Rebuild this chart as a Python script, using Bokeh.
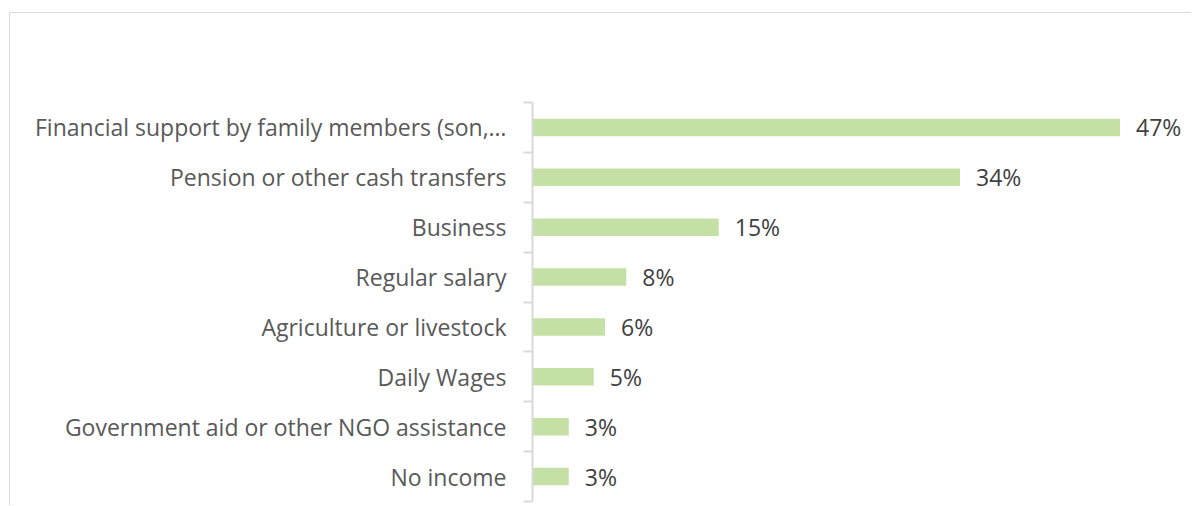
from bokeh.plotting import figure
from bokeh.models import Range1d, FixedTicker, LinearAxis
from bokeh.embed import file_html
from bokeh.resources import INLINE
from bokeh.core.properties import value

categories = [
    "Financial support by family members (son,…",
    "Pension or other cash transfers",
    "Business",
    "Regular salary",
    "Agriculture or livestock",
    "Daily Wages",
    "Government aid or other NGO assistance",
    "No income",
]
values = [47.0, 34.2, 14.9, 7.5, 5.8, 4.9, 2.9, 2.9]
value_labels = ["47%", "34%", "15%", "8%", "6%", "5%", "3%", "3%"]

n = len(categories)
ys = [n - 0.5 - i for i in range(n)]

p = figure(
    width=1182, height=493,
    output_backend="svg", toolbar_location=None,
    x_range=Range1d(0, 52.8), y_range=Range1d(0, n),
    x_axis_location=None, y_axis_location=None,
    min_border_left=522, min_border_top=89, min_border_bottom=5, min_border_right=0,
    margin=(12, 0, -15, 9),
    styles={"border-left": "1px solid #d9d9d9", "border-top": "1px solid #d9d9d9"},
)
p.outline_line_color = None
p.xgrid.visible = False
p.ygrid.visible = False
p.background_fill_color = "white"
p.border_fill_color = "white"

yaxis = LinearAxis(
    ticker=FixedTicker(ticks=ys, minor_ticks=list(range(n + 1))),
    major_label_overrides={y: c for y, c in zip(ys, categories)},
)
yaxis.axis_line_color = "#d9d9d9"
yaxis.axis_line_width = 2
yaxis.major_tick_line_color = None
yaxis.major_tick_in = 0
yaxis.major_tick_out = 0
yaxis.minor_tick_line_color = "#d9d9d9"
yaxis.minor_tick_line_width = 2
yaxis.minor_tick_in = 0
yaxis.minor_tick_out = 9
yaxis.major_label_standoff = 17
yaxis.major_label_text_font = "Open Sans"
yaxis.major_label_text_font_size = "23px"
yaxis.major_label_text_color = "#595959"
p.add_layout(yaxis, "left")

p.hbar(y=ys, left=0, right=values, height=0.35, color="#c5e0a4", line_color=None)

p.text(x=values, y=ys, text=value_labels, x_offset=16,
       text_baseline="middle", text_align="left",
       text_font=value("Open Sans"), text_font_size="23px", text_color="#404040")

open("out.html", "w").write(file_html(p, INLINE))
